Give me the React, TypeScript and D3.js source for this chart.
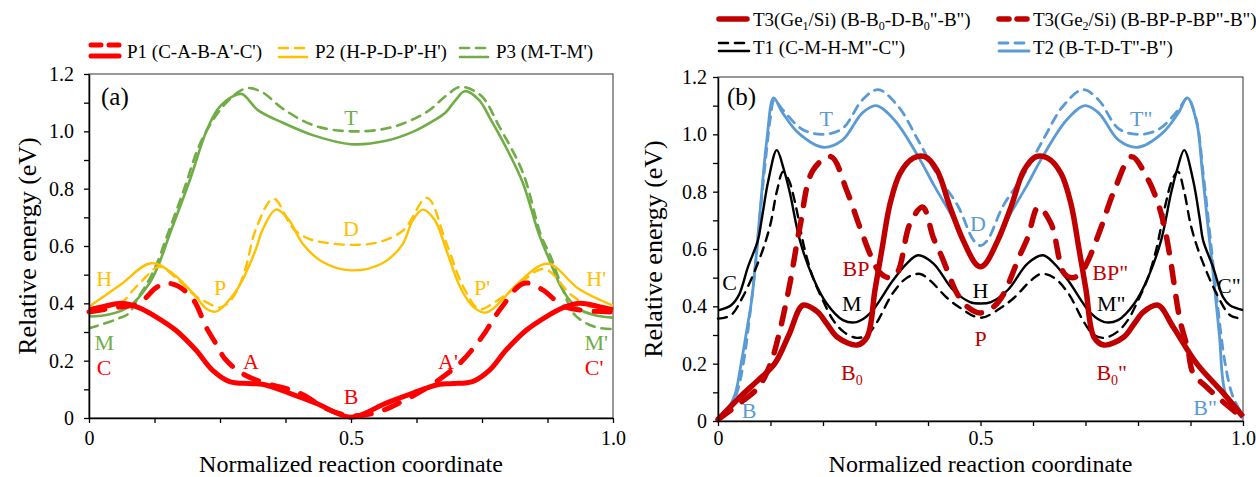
import React, { useEffect, useRef } from "react";
import * as d3 from "d3";

type Pt = [number, number];

const FONT = "'Liberation Serif', 'Times New Roman', serif";

const RED = "#FF0000";
const YELLOW = "#FFC000";
const GREEN = "#70AD47";
const DARKRED = "#C00000";
const BLUE = "#5B9BD5";
const BLACK = "#000000";

// ---- panel (a) ----
const p1Solid: Pt[] = [[0, 0.377], [0.03, 0.39], [0.064, 0.4], [0.095, 0.385], [0.127, 0.354], [0.165, 0.307], [0.204, 0.237], [0.235, 0.168], [0.267, 0.128], [0.305, 0.12], [0.331, 0.118], [0.382, 0.087], [0.433, 0.052], [0.5, 0.003], [0.567, 0.052], [0.618, 0.087], [0.669, 0.118], [0.695, 0.12], [0.733, 0.128], [0.765, 0.168], [0.796, 0.237], [0.835, 0.307], [0.873, 0.354], [0.905, 0.385], [0.936, 0.4], [0.97, 0.39], [1, 0.377]];
const p1Dashed: Pt[] = [[0, 0.37], [0.05, 0.385], [0.095, 0.4], [0.127, 0.453], [0.145, 0.47], [0.17, 0.46], [0.2, 0.41], [0.223, 0.319], [0.242, 0.26], [0.26, 0.205], [0.29, 0.158], [0.33, 0.125], [0.382, 0.1], [0.413, 0.077], [0.45, 0.035], [0.5, 0.008], [0.55, 0.02], [0.6, 0.06], [0.64, 0.1], [0.675, 0.143], [0.71, 0.195], [0.75, 0.283], [0.785, 0.38], [0.83, 0.47], [0.865, 0.448], [0.905, 0.39], [0.945, 0.375], [1, 0.37]];
const p2Solid: Pt[] = [[0, 0.388], [0.06, 0.465], [0.118, 0.54], [0.159, 0.505], [0.204, 0.424], [0.223, 0.383], [0.242, 0.371], [0.262, 0.4], [0.286, 0.458], [0.318, 0.586], [0.331, 0.656], [0.357, 0.727], [0.382, 0.69], [0.407, 0.61], [0.445, 0.545], [0.5, 0.515], [0.56, 0.54], [0.598, 0.605], [0.618, 0.69], [0.637, 0.727], [0.66, 0.69], [0.683, 0.58], [0.71, 0.45], [0.735, 0.385], [0.758, 0.368], [0.785, 0.405], [0.812, 0.458], [0.875, 0.538], [0.935, 0.45], [1, 0.392]];
const p2Dashed: Pt[] = [[0, 0.37], [0.04, 0.388], [0.064, 0.405], [0.083, 0.444], [0.102, 0.48], [0.134, 0.528], [0.165, 0.49], [0.204, 0.424], [0.223, 0.405], [0.25, 0.385], [0.27, 0.41], [0.286, 0.458], [0.3, 0.53], [0.318, 0.656], [0.352, 0.765], [0.39, 0.66], [0.42, 0.625], [0.45, 0.612], [0.5, 0.604], [0.55, 0.612], [0.6, 0.655], [0.645, 0.768], [0.682, 0.61], [0.715, 0.455], [0.745, 0.38], [0.775, 0.405], [0.812, 0.452], [0.868, 0.52], [0.92, 0.43], [0.96, 0.385], [1, 0.37]];
const p3Solid: Pt[] = [[0, 0.354], [0.04, 0.362], [0.076, 0.388], [0.115, 0.469], [0.134, 0.54], [0.153, 0.636], [0.193, 0.833], [0.223, 0.996], [0.246, 1.078], [0.275, 1.123], [0.292, 1.13], [0.323, 1.073], [0.37, 1.03], [0.43, 0.985], [0.5, 0.955], [0.567, 0.967], [0.62, 1.0], [0.66, 1.04], [0.68, 1.065], [0.7, 1.11], [0.717, 1.14], [0.744, 1.11], [0.767, 1.04], [0.797, 0.94], [0.828, 0.82], [0.858, 0.645], [0.88, 0.545], [0.9, 0.46], [0.92, 0.405], [0.94, 0.375], [0.97, 0.357], [1, 0.35]];
const p3Dashed: Pt[] = [[0, 0.313], [0.04, 0.336], [0.057, 0.348], [0.076, 0.365], [0.095, 0.424], [0.108, 0.46], [0.127, 0.528], [0.15, 0.64], [0.18, 0.79], [0.216, 0.973], [0.262, 1.1], [0.3, 1.15], [0.33, 1.137], [0.369, 1.08], [0.43, 1.02], [0.5, 1.0], [0.577, 1.014], [0.644, 1.067], [0.682, 1.125], [0.709, 1.155], [0.748, 1.125], [0.782, 1.02], [0.828, 0.856], [0.862, 0.64], [0.881, 0.563], [0.904, 0.45], [0.927, 0.36], [0.965, 0.318], [1, 0.31]];

// ---- panel (b) ----
const t2Solid: Pt[] = [[0, 0], [0.018, 0.04], [0.032, 0.09], [0.044, 0.2], [0.056, 0.33], [0.064, 0.42], [0.072, 0.56], [0.081, 0.75], [0.093, 0.98], [0.106, 1.127], [0.123, 1.075], [0.153, 1.005], [0.2, 0.955], [0.237, 0.98], [0.275, 1.075], [0.301, 1.1], [0.336, 1.05], [0.381, 0.924], [0.412, 0.82], [0.45, 0.7], [0.475, 0.6], [0.49, 0.552], [0.5, 0.537], [0.51, 0.552], [0.525, 0.6], [0.55, 0.7], [0.588, 0.82], [0.619, 0.924], [0.664, 1.05], [0.699, 1.1], [0.725, 1.075], [0.763, 0.98], [0.8, 0.955], [0.847, 1.005], [0.877, 1.075], [0.894, 1.127], [0.912, 1.04], [0.922, 0.88], [0.932, 0.7], [0.944, 0.5], [0.955, 0.3], [0.966, 0.1], [0.985, 0.04], [1, 0.01]];
const t2Dashed: Pt[] = [[0, 0], [0.025, 0.05], [0.038, 0.11], [0.05, 0.22], [0.06, 0.36], [0.07, 0.52], [0.08, 0.72], [0.09, 0.9], [0.1, 1.06], [0.107, 1.12], [0.123, 1.086], [0.161, 1.017], [0.199, 1.0], [0.237, 1.02], [0.275, 1.12], [0.305, 1.156], [0.343, 1.098], [0.381, 0.98], [0.419, 0.854], [0.457, 0.75], [0.487, 0.63], [0.5, 0.612], [0.513, 0.63], [0.543, 0.75], [0.581, 0.854], [0.619, 0.98], [0.657, 1.098], [0.695, 1.156], [0.725, 1.12], [0.763, 1.02], [0.801, 1.0], [0.839, 1.017], [0.877, 1.086], [0.894, 1.127], [0.91, 1.06], [0.925, 0.85], [0.937, 0.65], [0.95, 0.43], [0.966, 0.2], [0.981, 0.084], [1, 0.02]];
const t1Solid: Pt[] = [[0, 0.386], [0.025, 0.404], [0.04, 0.44], [0.057, 0.537], [0.076, 0.63], [0.083, 0.7], [0.096, 0.84], [0.112, 0.945], [0.125, 0.88], [0.137, 0.795], [0.156, 0.63], [0.181, 0.5], [0.207, 0.41], [0.238, 0.352], [0.264, 0.345], [0.29, 0.376], [0.333, 0.49], [0.36, 0.55], [0.381, 0.578], [0.41, 0.55], [0.448, 0.457], [0.48, 0.415], [0.5, 0.41], [0.52, 0.415], [0.552, 0.457], [0.59, 0.55], [0.619, 0.578], [0.64, 0.55], [0.667, 0.49], [0.71, 0.376], [0.736, 0.345], [0.762, 0.352], [0.793, 0.41], [0.819, 0.5], [0.844, 0.63], [0.863, 0.795], [0.875, 0.88], [0.888, 0.945], [0.905, 0.84], [0.918, 0.7], [0.924, 0.63], [0.943, 0.537], [0.962, 0.432], [0.975, 0.404], [1, 0.387]];
const t1Dashed: Pt[] = [[0, 0.357], [0.024, 0.368], [0.047, 0.432], [0.08, 0.57], [0.099, 0.68], [0.112, 0.8], [0.124, 0.87], [0.135, 0.84], [0.147, 0.76], [0.165, 0.6], [0.181, 0.5], [0.2, 0.42], [0.22, 0.35], [0.24, 0.31], [0.264, 0.29], [0.284, 0.3], [0.302, 0.342], [0.333, 0.446], [0.36, 0.5], [0.385, 0.513], [0.404, 0.49], [0.436, 0.43], [0.461, 0.395], [0.5, 0.36], [0.539, 0.395], [0.564, 0.43], [0.596, 0.49], [0.615, 0.513], [0.64, 0.5], [0.667, 0.446], [0.698, 0.342], [0.716, 0.3], [0.736, 0.29], [0.76, 0.31], [0.78, 0.35], [0.8, 0.42], [0.819, 0.5], [0.835, 0.6], [0.853, 0.76], [0.865, 0.84], [0.876, 0.87], [0.888, 0.8], [0.901, 0.68], [0.92, 0.57], [0.953, 0.432], [0.976, 0.368], [1, 0.357]];
const t3Solid: Pt[] = [[0, 0.005], [0.042, 0.084], [0.075, 0.14], [0.108, 0.2], [0.135, 0.3], [0.162, 0.404], [0.19, 0.38], [0.207, 0.34], [0.227, 0.293], [0.265, 0.265], [0.284, 0.293], [0.299, 0.457], [0.312, 0.596], [0.328, 0.76], [0.347, 0.865], [0.372, 0.917], [0.394, 0.922], [0.417, 0.875], [0.442, 0.746], [0.467, 0.63], [0.49, 0.55], [0.5, 0.538], [0.51, 0.55], [0.533, 0.63], [0.558, 0.746], [0.583, 0.875], [0.606, 0.922], [0.628, 0.917], [0.653, 0.865], [0.672, 0.76], [0.688, 0.596], [0.701, 0.457], [0.716, 0.293], [0.735, 0.265], [0.773, 0.293], [0.793, 0.34], [0.81, 0.38], [0.838, 0.404], [0.867, 0.328], [0.912, 0.2], [0.962, 0.098], [1, 0.015]];
const t3Dashed: Pt[] = [[0, 0.005], [0.04, 0.06], [0.077, 0.118], [0.1, 0.2], [0.118, 0.317], [0.137, 0.48], [0.156, 0.677], [0.181, 0.875], [0.215, 0.922], [0.245, 0.805], [0.27, 0.677], [0.295, 0.56], [0.309, 0.516], [0.325, 0.5], [0.341, 0.516], [0.366, 0.69], [0.39, 0.746], [0.41, 0.64], [0.427, 0.57], [0.442, 0.5], [0.455, 0.446], [0.474, 0.4], [0.5, 0.377], [0.526, 0.4], [0.545, 0.446], [0.558, 0.5], [0.573, 0.57], [0.59, 0.64], [0.61, 0.746], [0.634, 0.69], [0.659, 0.516], [0.675, 0.5], [0.691, 0.516], [0.705, 0.56], [0.73, 0.677], [0.755, 0.805], [0.788, 0.922], [0.817, 0.85], [0.838, 0.76], [0.85, 0.68], [0.861, 0.572], [0.88, 0.352], [0.895, 0.25], [0.905, 0.167], [0.931, 0.118], [0.96, 0.07], [1, 0.01]];

// ticks
const yTicks = [0, 0.1, 0.2, 0.3, 0.4, 0.5, 0.6, 0.7, 0.8, 0.9, 1.0, 1.1, 1.2];
const yTickText = ["0", "", "0.2", "", "0.4", "", "0.6", "", "0.8", "", "1.0", "", "1.2"];
const xTicksA = [0, 0.125, 0.25, 0.375, 0.5, 0.625, 0.75, 0.875, 1];
const xTickTextA = ["0", "", "", "", "0.5", "", "", "", "1.0"];
const xTicksB = [0, 0.1, 0.2, 0.3, 0.4, 0.5, 0.6, 0.7, 0.8, 0.9, 1];
const xTickTextB = ["0", "", "", "", "", "0.5", "", "", "", "", "1.0"];

// point labels: [text, subscript, tail, x, energy, colour]
type Lab = [string, string, string, number, number, string];
const labelsA: Lab[] = [
  ["H", "", "", 0.029, 0.488, YELLOW], ["P", "", "", 0.25, 0.457, YELLOW], ["D", "", "", 0.5, 0.663, YELLOW],
  ["P'", "", "", 0.75, 0.457, YELLOW], ["H'", "", "", 0.968, 0.488, YELLOW],
  ["T", "", "", 0.5, 1.05, GREEN], ["M", "", "", 0.029, 0.265, GREEN], ["M'", "", "", 0.968, 0.265, GREEN],
  ["C", "", "", 0.029, 0.178, RED], ["C'", "", "", 0.964, 0.178, RED], ["A", "", "", 0.309, 0.199, RED],
  ["A'", "", "", 0.685, 0.199, RED], ["B", "", "", 0.5, 0.077, RED],
];
const labelsB: Lab[] = [
  ["C", "", "", 0.022, 0.485, BLACK], ["M", "", "", 0.255, 0.41, BLACK], ["H", "", "", 0.5, 0.457, BLACK],
  ["M\"", "", "", 0.749, 0.41, BLACK], ["C\"", "", "", 0.973, 0.474, BLACK],
  ["BP", "", "", 0.263, 0.534, DARKRED], ["BP\"", "", "", 0.747, 0.52, DARKRED], ["P", "", "", 0.5, 0.29, DARKRED],
  ["B", "0", "", 0.255, 0.171, DARKRED], ["B", "0", "\"", 0.75, 0.171, DARKRED],
  ["B", "", "", 0.059, 0.038, BLUE], ["B\"", "", "", 0.928, 0.049, BLUE], ["T", "", "", 0.206, 1.057, BLUE],
  ["T\"", "", "", 0.806, 1.057, BLUE], ["D", "", "", 0.495, 0.69, BLUE],
];

const THIN_DASH = "9,7";
const THICK_DASH = "16,14";

function drawPanel(svg: any, cfg: any) {
  const x = d3.scaleLinear().domain([0, 1]).range([cfg.left, cfg.right]);
  const y = d3.scaleLinear().domain([0, 1.2]).range([cfg.bottom, cfg.top]);
  const g = svg.append("g");

  g.append("rect")
    .attr("x", cfg.left).attr("y", cfg.top)
    .attr("width", cfg.right - cfg.left).attr("height", cfg.bottom - cfg.top)
    .attr("fill", "none").attr("stroke", "#333").attr("stroke-width", 1);

  const line = d3.line<Pt>()
    .x(d => x(d[0]))
    .y(d => y(d[1]))
    .curve(d3.curveCatmullRom.alpha(0.5));

  cfg.series.forEach((s: any) => {
    g.append("path")
      .attr("d", line(s.data))
      .attr("fill", "none")
      .attr("stroke", s.color)
      .attr("stroke-width", s.width)
      .attr("stroke-dasharray", s.dash ? s.dash : null)
      .attr("stroke-linecap", s.dash ? "round" : "butt")
      .attr("stroke-linejoin", "round");
  });

  // axes
  const yAxis = g.append("g")
    .attr("transform", `translate(${cfg.left},0)`)
    .call(d3.axisLeft(y).tickValues(yTicks).tickSize(5).tickSizeOuter(0)
      .tickPadding(cfg.yPad).tickFormat((d: any, i: number) => yTickText[i]));
  const xAxis = g.append("g")
    .attr("transform", `translate(0,${cfg.bottom})`)
    .call(d3.axisBottom(x).tickValues(cfg.xTicks).tickSize(5).tickSizeOuter(0)
      .tickPadding(cfg.xPad).tickFormat((d: any, i: number) => cfg.xTickText[i]));
  [yAxis, xAxis].forEach(a => {
    a.attr("font-family", FONT).attr("font-size", 20);
    a.select(".domain").attr("stroke-width", 1.5);
    a.selectAll(".tick line").attr("stroke-width", 1.3);
  });

  // point labels
  cfg.labels.forEach((l: Lab) => {
    const t = g.append("text")
      .attr("x", x(l[3])).attr("y", y(l[4])).attr("dy", "0.35em")
      .attr("text-anchor", "middle")
      .attr("font-family", FONT).attr("font-size", 22)
      .attr("fill", l[5]);
    t.append("tspan").text(l[0]);
    if (l[1]) {
      t.append("tspan").attr("dy", 5).attr("font-size", 14).text(l[1]);
      if (l[2]) t.append("tspan").attr("dy", -5).text(l[2]);
    }
  });

  // panel tag
  g.append("text")
    .attr("x", cfg.left + cfg.tagDx).attr("y", 105)
    .attr("font-family", FONT).attr("font-size", 25)
    .text(cfg.tag);

  // axis titles
  g.append("text")
    .attr("x", (cfg.left + cfg.right) / 2).attr("y", 472)
    .attr("text-anchor", "middle")
    .attr("font-family", FONT).attr("font-size", 24)
    .text("Normalized reaction coordinate");
  g.append("text")
    .attr("transform", `translate(${cfg.yTitleX},${(cfg.top + cfg.bottom) / 2}) rotate(-90)`)
    .attr("text-anchor", "middle")
    .attr("font-family", FONT).attr("font-size", 26)
    .text("Relative energy (eV)");
}

function swatch(svg: any, x: number, yy: number, len: number, color: string, width: number, dash: string | null) {
  svg.append("line")
    .attr("x1", x).attr("x2", x + len).attr("y1", yy).attr("y2", yy)
    .attr("stroke", color).attr("stroke-width", width)
    .attr("stroke-dasharray", dash)
    .attr("stroke-linecap", "round");
}

function legendText(svg: any, x: number, yy: number, parts: [string, boolean][]) {
  const t = svg.append("text")
    .attr("x", x).attr("y", yy).attr("dy", "0.35em")
    .attr("font-family", FONT).attr("font-size", 19);
  let down = false;
  parts.forEach(([s, sub]) => {
    const sp = t.append("tspan").text(s);
    if (sub && !down) { sp.attr("dy", 4).attr("font-size", 12); down = true; }
    else if (sub) sp.attr("font-size", 12);
    else if (down) { sp.attr("dy", -4); down = false; }
  });
}

export default function App() {
  const ref = useRef<SVGSVGElement>(null);

  useEffect(() => {
    const svg = d3.select(ref.current);
    svg.selectAll("*").remove();

    drawPanel(svg, {
      left: 89, right: 613, top: 74, bottom: 418, yPad: 10, xPad: 8, yTitleX: 36, tag: "(a)", tagDx: 12,
      xTicks: xTicksA, xTickText: xTickTextA, labels: labelsA,
      series: [
        { data: p3Dashed, color: GREEN, width: 2.6, dash: THIN_DASH },
        { data: p3Solid, color: GREEN, width: 2.6 },
        { data: p2Dashed, color: YELLOW, width: 2.4, dash: THIN_DASH },
        { data: p2Solid, color: YELLOW, width: 2.4 },
        { data: p1Dashed, color: RED, width: 5, dash: THICK_DASH },
        { data: p1Solid, color: RED, width: 5 },
      ],
    });
    drawPanel(svg, {
      left: 718, right: 1243, top: 77, bottom: 421, yPad: 6, xPad: 5, yTitleX: 662, tag: "(b)", tagDx: 9,
      xTicks: xTicksB, xTickText: xTickTextB, labels: labelsB,
      series: [
        { data: t2Dashed, color: BLUE, width: 2.8, dash: THIN_DASH },
        { data: t2Solid, color: BLUE, width: 2.8 },
        { data: t1Dashed, color: BLACK, width: 2.4, dash: THIN_DASH },
        { data: t1Solid, color: BLACK, width: 2.4 },
        { data: t3Dashed, color: DARKRED, width: 5.5, dash: THICK_DASH },
        { data: t3Solid, color: DARKRED, width: 5.5 },
      ],
    });

    // legend (a)
    swatch(svg, 91, 45, 28, RED, 5, "10,8");
    swatch(svg, 91, 56, 28, RED, 5, null);
    legendText(svg, 127, 51, [["P1 (C-A-B-A'-C')", false]]);
    swatch(svg, 279, 48, 28, YELLOW, 2.6, "9,7");
    swatch(svg, 279, 57, 28, YELLOW, 2.6, null);
    legendText(svg, 315, 51, [["P2 (H-P-D-P'-H')", false]]);
    swatch(svg, 460, 48, 28, GREEN, 2.6, "9,7");
    swatch(svg, 460, 57, 28, GREEN, 2.6, null);
    legendText(svg, 496, 51, [["P3 (M-T-M')", false]]);

    // legend (b)
    swatch(svg, 719, 19, 28, DARKRED, 5.5, null);
    legendText(svg, 753, 19, [["T3(Ge", false], ["1", true], ["/Si) (B-B", false], ["0", true], ["-D-B", false], ["0", true], ["\"-B\")", false]]);
    swatch(svg, 999, 19, 28, DARKRED, 5.5, "10,8");
    legendText(svg, 1033, 19, [["T3(Ge", false], ["2", true], ["/Si) (B-BP-P-BP\"-B\")", false]]);
    swatch(svg, 719, 43, 30, BLACK, 2.6, "9,7");
    swatch(svg, 719, 51, 30, BLACK, 2.6, null);
    legendText(svg, 753, 47, [["T1 (C-M-H-M\"-C\")", false]]);
    swatch(svg, 999, 43, 30, BLUE, 2.8, "9,7");
    swatch(svg, 999, 51, 30, BLUE, 2.8, null);
    legendText(svg, 1033, 47, [["T2 (B-T-D-T\"-B\")", false]]);
  }, []);

  return (
    <svg
      ref={ref}
      width={1256}
      height={477}
      style={{ position: "absolute", left: 0, top: 0, background: "#fff" }}
    />
  );
}
